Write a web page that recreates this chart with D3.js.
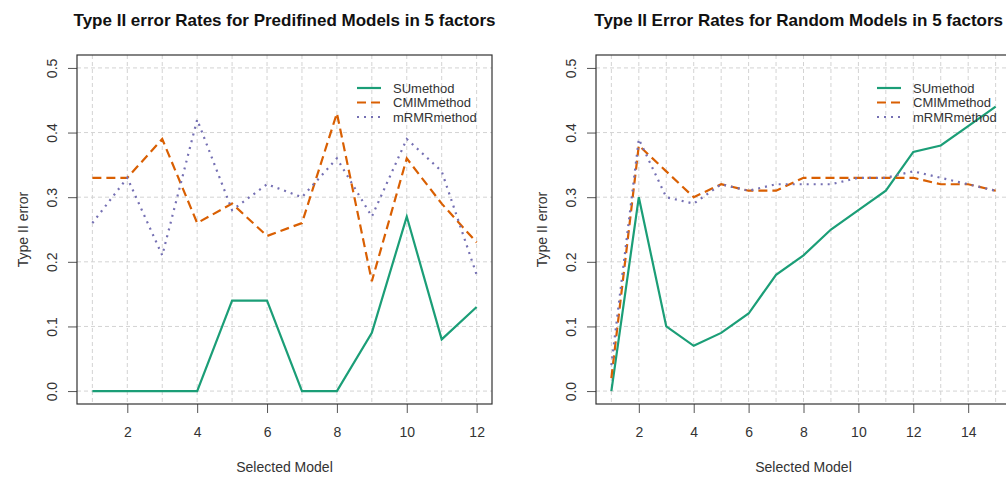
<!DOCTYPE html>
<html><head><meta charset="utf-8">
<script src="https://cdn.jsdelivr.net/npm/d3@7"></script>
<style>
html,body{margin:0;padding:0;background:#fff;overflow:hidden;}
text{font-family:"Liberation Sans Narrow","Arial Narrow","Liberation Sans",Arial,sans-serif;}
</style></head>
<body><svg id="c" width="1006" height="477"></svg>
<script>
const seriesNames = ["SUmethod", "CMIMmethod", "mRMRmethod"];
const colors = ["#1b9e77", "#d95f02", "#7570b3"];
const dashes = [null, "9,5", "2,5"];

const leftTitle = "Type II error Rates for Predifined Models in 5 factors";
const leftModels = [1,2,3,4,5,6,7,8,9,10,11,12];
const leftSU   = [0,0,0,0,0.14,0.14,0,0,0.09,0.27,0.08,0.13];
const leftCMIM = [0.33,0.33,0.39,0.26,0.29,0.24,0.26,0.43,0.17,0.36,0.29,0.23];
const leftMRMR = [0.26,0.33,0.21,0.42,0.28,0.32,0.30,0.36,0.27,0.39,0.34,0.18];
const leftXTicks = [2,4,6,8,10,12];

const rightTitle = "Type II Error Rates for Random Models in 5 factors";
const rightModels = [1,2,3,4,5,6,7,8,9,10,11,12,13,14,15];
const rightSU   = [0,0.30,0.10,0.07,0.09,0.12,0.18,0.21,0.25,0.28,0.31,0.37,0.38,0.41,0.44];
const rightCMIM = [0.02,0.38,0.34,0.30,0.32,0.31,0.31,0.33,0.33,0.33,0.33,0.33,0.32,0.32,0.31];
const rightMRMR = [0.04,0.39,0.30,0.29,0.32,0.31,0.32,0.32,0.32,0.33,0.33,0.34,0.33,0.32,0.31];
const rightXTicks = [2,4,6,8,10,12,14];

const yTicks = [0,0.1,0.2,0.3,0.4,0.5];
const xLabel = "Selected Model";
const yLabel = "Type II error";

const svg = d3.select("#c");

function panel(opt){
  const g = svg.append("g");
  const n = opt.models.length;
  const x = d3.scaleLinear().domain([1 - 0.04*(n-1), n + 0.04*(n-1)]).range([opt.left, opt.right]);
  const y = d3.scaleLinear().domain([-0.02, 0.52]).range([404, 55]);
  const cx = (opt.left + opt.right)/2;

  // grid
  g.append("g").selectAll("line").data(opt.models).join("line")
    .attr("x1", d=>x(d)).attr("x2", d=>x(d)).attr("y1", 55).attr("y2", 404)
    .attr("stroke", "#d3d3d3").attr("stroke-width", 1).attr("stroke-dasharray", "4,3");
  g.append("g").selectAll("line").data(yTicks).join("line")
    .attr("x1", opt.left).attr("x2", opt.right).attr("y1", d=>y(d)).attr("y2", d=>y(d))
    .attr("stroke", "#d3d3d3").attr("stroke-width", 1).attr("stroke-dasharray", "4,3");

  // axes
  const xa = g.append("g").attr("transform", `translate(0,404)`)
    .call(d3.axisBottom(x).tickValues(opt.xTicks).tickSize(9).tickPadding(14).tickFormat(d3.format("d")));
  const ya = g.append("g").attr("transform", `translate(${opt.left},0)`)
    .call(d3.axisLeft(y).tickValues(yTicks).tickSize(9).tickPadding(0).tickFormat(d3.format(".1f")));
  [xa, ya].forEach(a=>{
    a.select(".domain").remove();
    a.selectAll(".tick line").attr("stroke", "#555");
    a.selectAll(".tick text").attr("fill", "#333").style("font-size", "14px");
  });
  ya.selectAll(".tick text")
    .attr("x", null).attr("dy", null)
    .attr("text-anchor", "middle")
    .attr("transform", `translate(${-25},0) rotate(-90)`)
    .attr("dy", "0.35em");

  // box
  g.append("rect").attr("x", opt.left).attr("y", 55).attr("width", opt.right-opt.left).attr("height", 349)
    .attr("fill", "none").attr("stroke", "#333").attr("stroke-width", 1.2);

  // lines
  const line = d3.line().x((d,i)=>x(opt.models[i])).y(d=>y(d));
  opt.series.forEach((s,k)=>{
    g.append("path").datum(s).attr("d", line).attr("fill", "none")
      .attr("stroke", colors[k]).attr("stroke-width", 2.2)
      .attr("stroke-dasharray", dashes[k]);
  });

  // legend
  const lg = g.append("g").attr("transform", `translate(${opt.legX},88)`);
  seriesNames.forEach((nm,k)=>{
    lg.append("line").attr("x1", 0).attr("x2", 24).attr("y1", k*14.5).attr("y2", k*14.5)
      .attr("stroke", colors[k]).attr("stroke-width", 2.2).attr("stroke-dasharray", dashes[k]);
    lg.append("text").attr("x", 36).attr("y", k*14.5).attr("dy", "0.35em")
      .attr("fill", "#333").style("font-size", "13px").text(nm);
  });

  // titles
  const t = g.append("text").attr("x", cx).attr("y", 26).attr("text-anchor", "middle")
    .style("font-size", "17px").style("font-weight", "bold").attr("fill", "#111").text(opt.title);
  const bb = t.node().getBBox();
  if (bb.x + bb.width > 1003) t.attr("x", cx - (bb.x + bb.width - 1003));
  g.append("text").attr("x", cx).attr("y", 472).attr("text-anchor", "middle")
    .style("font-size", "14px").attr("fill", "#333").text(xLabel);
  g.append("text").attr("transform", `translate(${opt.left-54},${(55+404)/2}) rotate(-90)`)
    .attr("text-anchor", "middle").attr("dy", "0.35em")
    .style("font-size", "14px").attr("fill", "#333").text(yLabel);
}

panel({left:77, right:492, models:leftModels, series:[leftSU,leftCMIM,leftMRMR], xTicks:leftXTicks, title:leftTitle, legX:357});
panel({left:596, right:1011, models:rightModels, series:[rightSU,rightCMIM,rightMRMR], xTicks:rightXTicks, title:rightTitle, legX:877});
</script></body></html>
